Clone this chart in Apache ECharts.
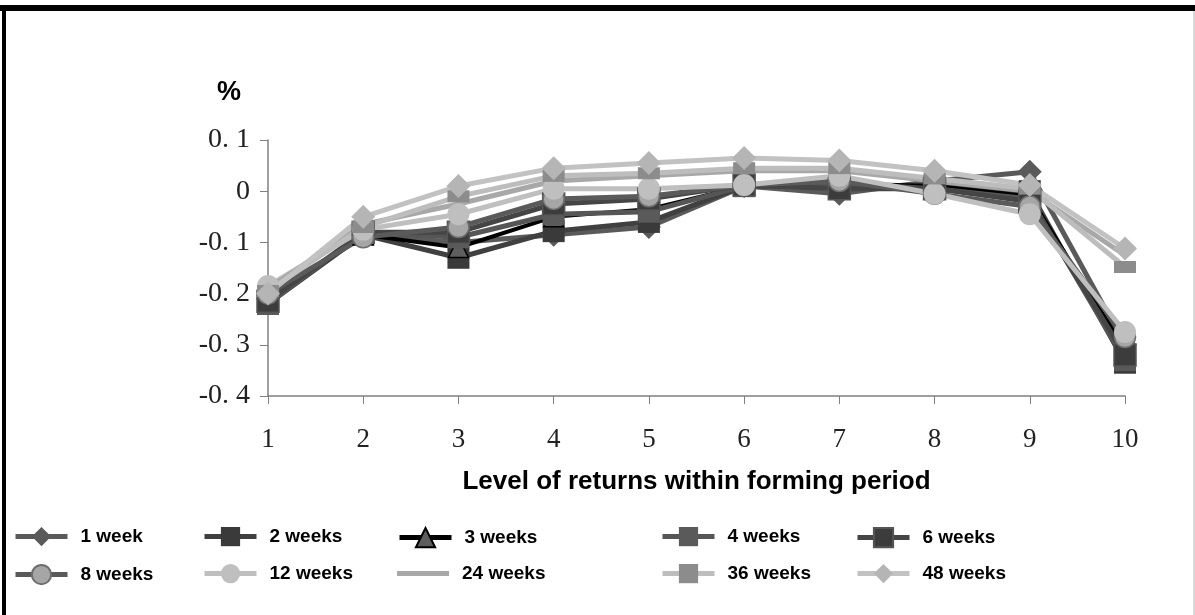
<!DOCTYPE html>
<html>
<head>
<meta charset="utf-8">
<script src="https://cdn.jsdelivr.net/npm/echarts@6/dist/echarts.min.js"></script>
<style>
  html, body { margin: 0; padding: 0; background: #fff; }
  #chart { width: 1195px; height: 615px; }
</style>
</head>
<body>
<div id="chart"></div>
<script>
// levels 1..10 on the x axis
const levels = ['1', '2', '3', '4', '5', '6', '7', '8', '9', '10'];

// return (%) per holding horizon
const week1   = [-0.21, -0.085, -0.10, -0.085, -0.07, 0.010, -0.005, 0.020, 0.038, -0.300];
const weeks2  = [-0.22, -0.085, -0.13, -0.078, -0.06, 0.010, 0.010, 0.010, 0.000, -0.335];
const weeks3  = [-0.215, -0.085, -0.11, -0.050, -0.035, 0.010, 0.015, 0.010, -0.010, -0.310];
const weeks4  = [-0.22, -0.080, -0.09, -0.045, -0.040, 0.010, 0.015, 0.005, -0.015, -0.330];
const weeks6  = [-0.215, -0.080, -0.08, -0.025, -0.015, 0.012, 0.005, 0.005, -0.020, -0.320];
const weeks8  = [-0.20, -0.090, -0.07, -0.015, -0.010, 0.012, 0.020, -0.005, -0.030, -0.285];
const weeks12 = [-0.185, -0.075, -0.045, 0.005, 0.005, 0.012, 0.030, -0.005, -0.045, -0.275];
const weeks24 = [-0.19, -0.065, -0.025, 0.020, 0.030, 0.040, 0.040, 0.020, 0.000, -0.125];
const weeks36 = [-0.195, -0.070, -0.010, 0.030, 0.035, 0.045, 0.045, 0.025, 0.005, -0.148];
const weeks48 = [-0.20, -0.050, 0.010, 0.045, 0.055, 0.065, 0.060, 0.040, 0.012, -0.112];

const seriesNames = ['1 week', '2 weeks', '3 weeks', '4 weeks', '6 weeks',
                     '8 weeks', '12 weeks', '24 weeks', '36 weeks', '48 weeks'];

// line look for each horizon (grayscale like the original figure)
function mk(name, data, lineColor, symbol, symbolSize, fill, border, width) {
  return {
    name: name,
    type: 'line',
    data: data,
    symbol: symbol,
    symbolSize: symbolSize,
    showSymbol: symbol !== 'none',
    lineStyle: { color: lineColor, width: width || 5 },
    itemStyle: { color: fill, borderColor: border || fill, borderWidth: border ? 1.5 : 0 },
    emphasis: { disabled: true },
    animation: false
  };
}

const series = [
  mk('1 week', week1, '#5a5a5a', 'diamond', 24, '#5a5a5a'),
  mk('2 weeks', weeks2, '#404040', 'rect', 22, '#3a3a3a'),
  mk('3 weeks', weeks3, '#000000', 'triangle', 20, '#5e5e5e', '#000000', 4),
  mk('4 weeks', weeks4, '#565656', 'rect', 22, '#5a5a5a'),
  mk('6 weeks', weeks6, '#454545', 'rect', 22, '#3c3c3c', '#555555'),
  mk('8 weeks', weeks8, '#5a5a5a', 'circle', 21, '#a6a6a6', '#6e6e6e'),
  mk('12 weeks', weeks12, '#bfbfbf', 'circle', 22, '#bfbfbf'),
  mk('24 weeks', weeks24, '#a8a8a8', 'none', 0, '#a8a8a8'),
  mk('36 weeks', weeks36, '#bdbdbd', 'rect', [22, 12], '#8c8c8c'),
  mk('48 weeks', weeks48, '#c2c2c2', 'diamond', 24, '#b5b5b5')
];

const legendText = { fontFamily: 'Liberation Sans', fontWeight: 'bold', fontSize: 19, color: '#000', padding: [0, 0, 0, 8] };
const legendCols = [8, 197, 392, 655, 850];
const legendRows = [522, 559];
// one legend per entry so every row lines up
const legends = [];
seriesNames.forEach(function (n, i) {
  const item = n === '24 weeks' ? { name: n, icon: 'path://M0,0H52V5H0Z' } : { name: n };
  legends.push({
    left: legendCols[i % 5],
    top: legendRows[Math.floor(i / 5)],
    itemWidth: 52,
    itemHeight: 24,
    lineStyle: { width: 5 },
    textStyle: legendText,
    data: [item],
    selectedMode: false
  });
});

const chart = echarts.init(document.getElementById('chart'));
chart.setOption({
  backgroundColor: '#fff',
  animation: false,
  title: {
    text: '%',
    left: 212,
    top: 74,
    textStyle: { fontFamily: 'Liberation Sans', fontWeight: 'bold', fontSize: 27, color: '#000' }
  },
  legend: legends,
  grid: { left: 268, right: 70, top: 140, bottom: 219 },
  xAxis: {
    type: 'category',
    data: levels,
    boundaryGap: false,
    name: 'Level of returns within forming period',
    nameLocation: 'middle',
    nameGap: 73,
    nameTextStyle: { fontFamily: 'Liberation Sans', fontWeight: 'bold', fontSize: 26, color: '#000' },
    axisLine: { onZero: false, lineStyle: { color: '#808080', width: 1.5 } },
    axisTick: { alignWithLabel: true, length: 8, lineStyle: { color: '#808080' } },
    axisLabel: { fontFamily: 'Liberation Serif', fontSize: 27, color: '#222', margin: 30 },
    splitLine: { show: false }
  },
  yAxis: {
    type: 'value',
    min: -0.4,
    max: 0.1,
    interval: 0.1,
    axisLine: { show: true, lineStyle: { color: '#808080', width: 1.5 } },
    axisTick: { show: true, length: 8, lineStyle: { color: '#808080' } },
    axisLabel: {
      fontFamily: 'Liberation Serif',
      fontSize: 28,
      color: '#222',
      margin: 18,
      formatter: function (v) {
        if (Math.abs(v) < 1e-9) return '0';
        return v.toFixed(1).replace('.', '. ');
      }
    },
    splitLine: { show: false }
  },
  graphic: [
    // frame of the original figure
    { type: 'rect', shape: { x: 0, y: 5, width: 1195, height: 6 }, style: { fill: '#000' } },
    { type: 'rect', shape: { x: 2, y: 5, width: 4, height: 610 }, style: { fill: '#000' } },
    { type: 'rect', shape: { x: 1193, y: 11, width: 2, height: 604 }, style: { fill: '#d9d9d9' } }
  ],
  series: series
});
</script>
</body>
</html>
